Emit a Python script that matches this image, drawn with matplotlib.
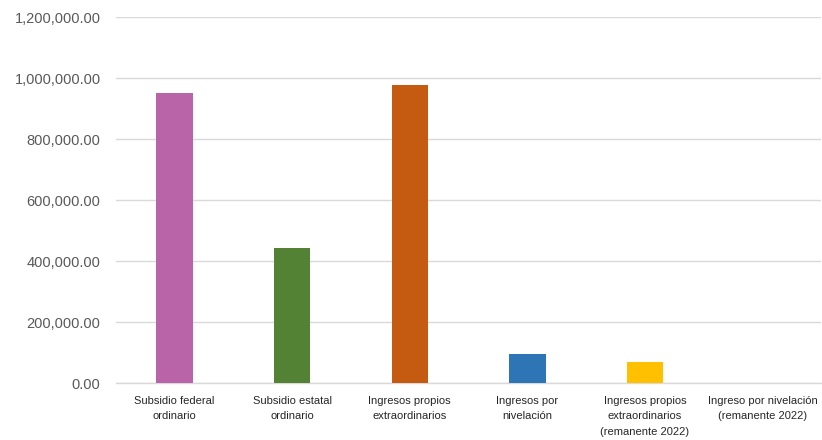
import matplotlib.pyplot as plt
from matplotlib.ticker import FuncFormatter, MultipleLocator

categories = ["Subsidio federal\nordinario", "Subsidio estatal\nordinario",
              "Ingresos propios\nextraordinarios", "Ingresos por\nnivelación",
              "Ingresos propios\nextraordinarios\n(remanente 2022)",
              "Ingreso por nivelación\n(remanente 2022)"]
values = [950000, 442000, 977000, 95000, 70000, 0]
colors = ["#B963A9", "#548235", "#C55A11", "#2E75B6", "#FFC000", "#A5A5A5"]

plt.rcParams['font.family'] = ['Liberation Sans', 'DejaVu Sans']

fig = plt.figure(figsize=(8.22, 4.4), dpi=100)
ax = fig.add_axes([0.141, 0.1295, 0.858, 0.8315])

x = range(len(categories))
ax.bar(x, values, width=0.31, color=colors, zorder=3)

ax.set_ylim(0, 1200000)
ax.set_xlim(-0.5, len(categories) - 0.5)
ax.yaxis.set_major_locator(MultipleLocator(200000))
ax.yaxis.set_major_formatter(FuncFormatter(lambda v, p: f"{v:,.2f}"))
ax.grid(axis='y', color='#D9D9D9', linewidth=1, zorder=0)

for s in ['top', 'right', 'left']:
    ax.spines[s].set_visible(False)
ax.spines['bottom'].set_color('#D9D9D9')
ax.spines['bottom'].set_linewidth(1)

ax.set_xticks(list(x))
ax.set_xticklabels(categories, fontsize=8, color='#262626', va='top', linespacing=1.7)
ax.tick_params(axis='x', length=0, pad=9)
ax.tick_params(axis='y', length=0, labelsize=10.5, labelcolor='#595959', pad=11)

fig.savefig("out.png", dpi=100)
